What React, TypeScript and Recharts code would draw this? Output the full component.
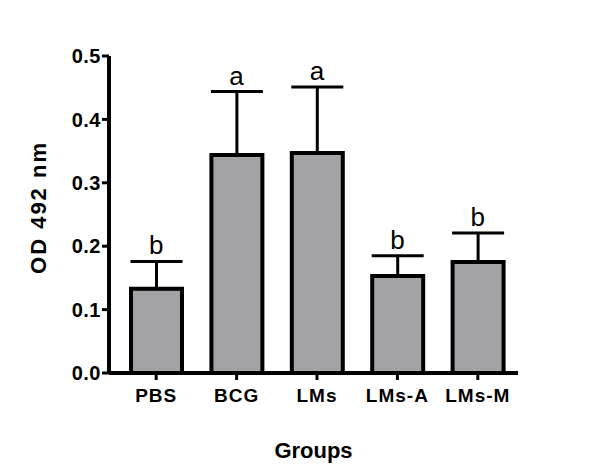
import React from "react";
import { ComposedChart, Bar, Line, XAxis, YAxis, ErrorBar, LabelList, Label } from "recharts";

const groups = ["PBS", "BCG", "LMs", "LMs-A", "LMs-M"];
const means = [0.133, 0.344, 0.347, 0.153, 0.175];
const errors = [0.043, 0.1, 0.104, 0.032, 0.046];
const letters = ["b", "a", "a", "b", "b"];
const yTicks = [0, 0.1, 0.2, 0.3, 0.4, 0.5];

const data = groups.map((g, i) => ({
  group: g,
  mean: means[i],
  err: [0, errors[i]],
  top: means[i] + errors[i],
  letter: letters[i],
}));

const FONT = '"Liberation Sans", Arial, sans-serif';

export default function App() {
  return (
    <div style={{ position: "absolute", left: 0, top: 0, background: "#fff" }}>
      <ComposedChart
        width={600}
        height={476}
        data={data}
        margin={{ top: 56, right: 82, bottom: 0, left: 0 }}
        style={{ fontFamily: FONT }}
      >
        <XAxis
          dataKey="group"
          height={103}
          padding={{ left: 7, right: 0 }}
          axisLine={{ stroke: "#000", strokeWidth: 4 }}
          tickLine={{ stroke: "#000", strokeWidth: 3 }}
          tickSize={7}
          tickMargin={9}
          tick={{ fill: "#000", fontSize: 19, fontWeight: "bold", fontFamily: FONT, letterSpacing: 1 }}
        >
          <Label
            value="Groups"
            position="insideBottom"
            offset={18}
            style={{ fill: "#000", fontSize: 22, fontWeight: "bold", fontFamily: FONT }}
          />
        </XAxis>
        <YAxis
          width={109}
          domain={[0, 0.5]}
          ticks={yTicks}
          interval={0}
          tickFormatter={(v: number) => v.toFixed(1)}
          axisLine={{ stroke: "#000", strokeWidth: 4 }}
          tickLine={{ stroke: "#000", strokeWidth: 3 }}
          tickSize={7}
          tickMargin={1}
          tick={{ fill: "#000", fontSize: 20, fontWeight: "bold", fontFamily: FONT, letterSpacing: 0.5 }}
        >
          <Label
            value="OD 492 nm"
            angle={-90}
            position="insideLeft"
            offset={40}
            dx={-2}
            dy={-7}
            style={{ textAnchor: "middle", fill: "#000", fontSize: 22, fontWeight: "bold", fontFamily: FONT, letterSpacing: 2 }}
          />
        </YAxis>
        <Bar
          dataKey="mean"
          fill="#a2a2a7"
          stroke="#000"
          strokeWidth={4}
          barSize={51}
          isAnimationActive={false}
        >
          <ErrorBar dataKey="err" direction="y" width={26} stroke="#000" strokeWidth={3} />
        </Bar>
        <Line
          dataKey="top"
          stroke="none"
          dot={false}
          activeDot={false}
          isAnimationActive={false}
        >
          <LabelList
            dataKey="letter"
            position="top"
            offset={7}
            style={{ fill: "#000", fontSize: 26, fontFamily: FONT }}
          />
        </Line>
      </ComposedChart>
    </div>
  );
}
